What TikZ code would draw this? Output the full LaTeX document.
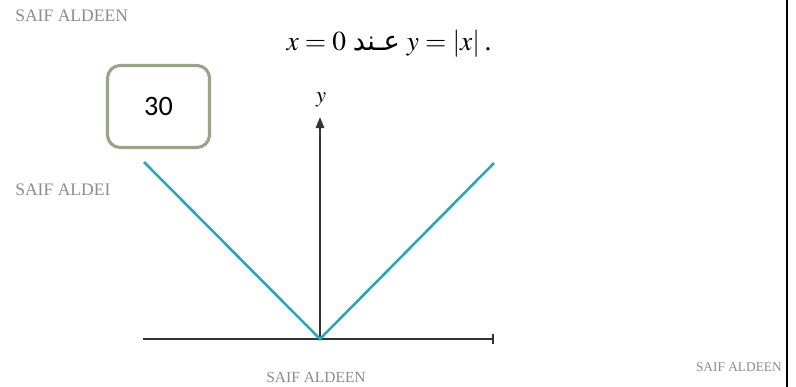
\documentclass[tikz,border=0pt]{standalone}
\usepackage{mathptmx}
\usepackage{fontspec}
\setmainfont{Liberation Serif}
\newfontfamily\arabicfont[Script=Arabic]{DejaVu Sans}
\newfontfamily\boxfont{Carlito}
\TeXXeTstate=1
\usepackage{tikz}
\usetikzlibrary{arrows.meta, positioning}
\definecolor{mycyan}{RGB}{38,166,192}
\definecolor{myaxis}{RGB}{50,50,55}
\definecolor{mygray}{RGB}{140,140,140}
\definecolor{myframe}{RGB}{152,164,136}
\tikzset{
  wmark/.style={text=mygray, font=\fontsize{12.5}{14}\selectfont, inner sep=0pt},
  axis/.style={line width=1.3pt, color=myaxis},
  graph/.style={line width=1.8pt, color=mycyan},
  tagbox/.style={rectangle, draw=myframe, line width=2.2pt,
    rounded corners=9pt, minimum width=2.55cm, minimum height=2.05cm,
    font=\boxfont\fontsize{20}{24}\selectfont},
  edge/.style={line width=1.5pt, color=black}
}

\begin{document}
\begin{tikzpicture}[x=0.025cm, y=-0.025cm]
  \useasboundingbox (0,0) rectangle (796,387);

  % Watermarks
  \node[wmark, anchor=west] (wm1) at (15,16) {SAIF ALDEEN};
  \node[wmark, anchor=west] (wm2) at (15,190) {SAIF ALDEI};
  \node[wmark, font=\fontsize{11}{13}\selectfont] (wm3) at (316,377) {SAIF ALDEEN};
  \node[wmark, anchor=east, font=\fontsize{9.5}{11}\selectfont] (wm4) at (782,367) {SAIF ALDEEN};

  % Title
  \node (title) at (389,44) {\fontsize{19.5}{22}\selectfont
    $x=0$\ {\arabicfont\beginR عـند\endR}\ $y=|x|$\,.};

  % Tag box
  \node[tagbox] (tag) at (158.5,106.5) {30};

  % Axes
  \coordinate (origin) at (320,339);
  \coordinate (xleft) at (143,339);
  \coordinate (xright) at (494,339);
  \coordinate (ytop) at (320,117);
  \draw[axis, -{Bar[width=7pt]}] (xleft) -- (xright);
  \draw[axis, -{Triangle[width=6pt, length=8pt]}] (origin) -- (ytop);
  \node (ylabel) at (321,100) {\fontsize{16}{18}\selectfont$y$};

  % Graph of |x|
  \coordinate (lefttip) at (144,162);
  \coordinate (righttip) at (494,163);
  \draw[graph] (lefttip) -- (origin) -- (righttip);

  % Right edge
  \coordinate (edgetop) at (787,0);
  \coordinate (edgebot) at (787,387);
  \draw[edge] (edgetop) -- (edgebot);
\end{tikzpicture}
\end{document}
